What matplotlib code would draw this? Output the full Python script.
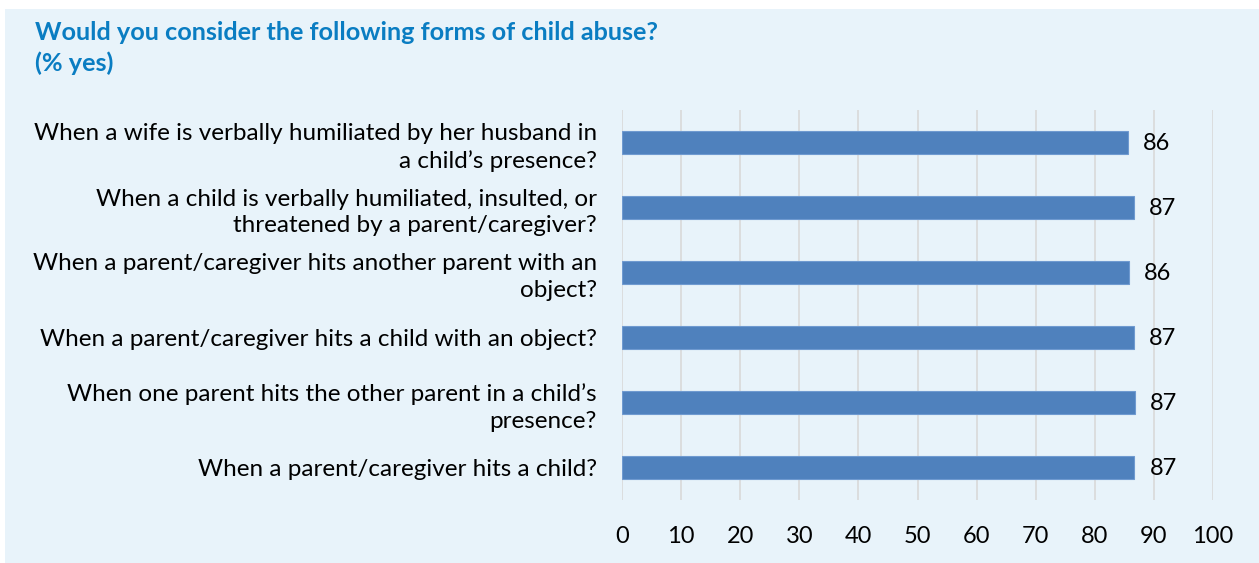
import matplotlib.pyplot as plt
from matplotlib.patches import Rectangle

# data (top to bottom as shown)
questions = [
    "When a wife is verbally humiliated by her husband in\na child\u2019s presence?",
    "When a child is verbally humiliated, insulted, or\nthreatened by a parent/caregiver?",
    "When a parent/caregiver hits another parent with an\nobject?",
    "When a parent/caregiver hits a child with an object?",
    "When one parent hits the other parent in a child\u2019s\npresence?",
    "When a parent/caregiver hits a child?",
]
pct_yes = [85.6, 86.6, 85.8, 86.6, 86.8, 86.7]
xticks = [0, 10, 20, 30, 40, 50, 60, 70, 80, 90, 100]

bg = "#E8F3FA"
bar_color = "#4F81BD"
title_color = "#0A7DC2"
font = "Lato"

fig = plt.figure(figsize=(12.59, 5.63), dpi=100)
fig.patch.set_facecolor("white")
# light blue panel behind the chart
fig.patches.append(Rectangle((5 / 1259, 0), 1, 1 - 9 / 563, transform=fig.transFigure,
                             facecolor=bg, edgecolor="none", zorder=-10))

ax = fig.add_axes([622 / 1259, 63 / 563, 591 / 1259, 390 / 563])
ax.set_facecolor(bg)

ypos = list(range(len(questions)))[::-1]
ax.barh(ypos, pct_yes, height=0.35, color=bar_color, edgecolor="#6F9AD0", linewidth=0.8, zorder=3)

for y, v in zip(ypos, pct_yes):
    ax.annotate("%d" % round(v), (v, y), xytext=(11, -1), textcoords="offset points",
                ha="left", va="center", fontsize=17, family=font, color="black")

ax.set_xlim(0, 100)
ax.set_ylim(-0.5, 5.5)
ax.set_xticks(xticks)
ax.set_xticklabels([str(t) for t in xticks], fontsize=17, family=font)
ax.set_yticks(ypos)
ax.set_yticklabels(questions, fontsize=17.5, family=font, linespacing=1.35)
ax.tick_params(axis="x", length=0, pad=19)
ax.tick_params(axis="y", length=0, pad=18)
ax.grid(axis="x", color="#D9D9D9", linewidth=1.2, zorder=0)
for s in ax.spines.values():
    s.set_visible(False)

title_lines = ["Would you consider the following forms of child abuse?", "(% yes)"]
for i, line in enumerate(title_lines):
    fig.text(35 / 1259, 1 - (33 + 30 * i) / 563, line, ha="left", va="center",
             fontsize=18.2, fontweight="bold", family=font, color=title_color)

fig.savefig("out.png", dpi=100, facecolor=fig.get_facecolor())
